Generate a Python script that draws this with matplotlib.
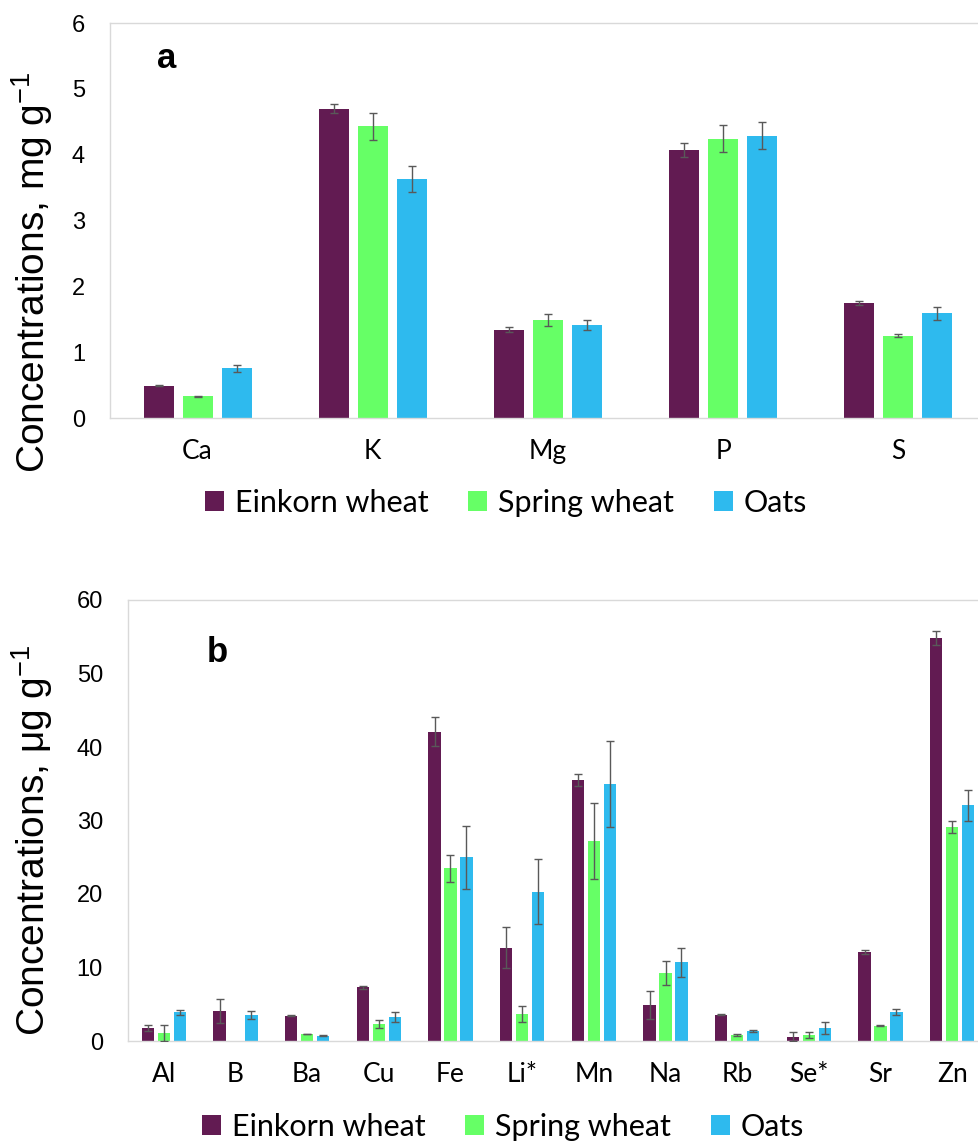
import numpy as np
import matplotlib.pyplot as plt

plt.rcParams['font.family'] = ['Liberation Sans', 'DejaVu Sans']
plt.rcParams['mathtext.fontset'] = 'custom'
plt.rcParams['mathtext.rm'] = 'Liberation Sans'
plt.rcParams['mathtext.it'] = 'Liberation Sans:italic'

# series names and colours
series = ['Einkorn wheat', 'Spring wheat', 'Oats']
colors = ['#621B52', '#66FF66', '#2EBAEE']

# panel a - macro elements, mg g-1
macro = ['Ca', 'K', 'Mg', 'P', 'S']
einkorn_a = [0.49, 4.70, 1.34, 4.07, 1.745]
einkorn_a_err = [0.01, 0.07, 0.04, 0.11, 0.035]
spring_a = [0.33, 4.43, 1.49, 4.245, 1.25]
spring_a_err = [0.01, 0.21, 0.09, 0.21, 0.02]
oats_a = [0.755, 3.63, 1.41, 4.29, 1.59]
oats_a_err = [0.055, 0.20, 0.08, 0.21, 0.10]

# panel b - trace elements, ug g-1 (no spring wheat value for B)
trace = ['Al', 'B', 'Ba', 'Cu', 'Fe', 'Li*', 'Mn', 'Na', 'Rb', 'Se*', 'Sr', 'Zn']
einkorn_b = [1.75, 4.1, 3.44, 7.3, 42.1, 12.7, 35.5, 4.9, 3.6, 0.6, 12.1, 54.8]
einkorn_b_err = [0.4, 1.65, 0.1, 0.23, 1.95, 2.8, 0.85, 1.95, 0.1, 0.65, 0.25, 0.95]
spring_b = [1.1, np.nan, 0.96, 2.34, 23.5, 3.72, 27.2, 9.3, 0.82, 0.82, 2.09, 29.1]
spring_b_err = [1.05, np.nan, 0.05, 0.55, 1.85, 1.1, 5.2, 1.65, 0.15, 0.35, 0.1, 0.85]
oats_b = [3.9, 3.53, 0.69, 3.3, 25.0, 20.3, 34.95, 10.7, 1.36, 1.82, 3.95, 32.1]
oats_b_err = [0.35, 0.55, 0.07, 0.7, 4.3, 4.4, 5.9, 1.95, 0.15, 0.8, 0.4, 2.1]

grid_col = '#D9D9D9'
err_col = '#595959'
W, H = 979, 1146


def draw_panel(ax, cats, vals, errs, ymax, ystep):
    x = np.arange(len(cats))
    width = 0.171
    step = 0.223
    for i in range(3):
        ax.bar(x + (i - 1) * step, vals[i], width, color=colors[i],
               label=series[i], zorder=2)
        ax.errorbar(x + (i - 1) * step, vals[i], yerr=errs[i], fmt='none',
                    ecolor=err_col, elinewidth=1, capsize=3, capthick=1, zorder=3)
    ax.set_xlim(-0.5, len(cats) - 0.5)
    ax.set_ylim(0, ymax)
    ax.set_yticks(np.arange(0, ymax + ystep / 2, ystep))
    ax.set_xticks(x)
    ax.set_xticklabels(cats, fontfamily='Lato', fontsize=19)
    ax.tick_params(axis='y', length=0, pad=18, labelsize=17)
    ax.tick_params(axis='x', length=0, pad=15)
    for s in ['left', 'top', 'bottom']:
        ax.spines[s].set_color(grid_col)
        ax.spines[s].set_linewidth(1)
    ax.spines['right'].set_visible(False)


def add_legend(ax, cx, cy):
    ax.legend(loc='center', bbox_to_anchor=(cx / W, 1 - cy / H),
              bbox_transform=fig.transFigure, ncol=3, frameon=False,
              prop={'family': 'Lato', 'size': 22}, handlelength=0.62,
              handleheight=0.62, handletextpad=0.35, columnspacing=1.3)


fig = plt.figure(figsize=(W / 100, H / 100), dpi=100)

# panel a
ax1 = fig.add_axes([110 / W, 1 - 418 / H, 876 / W, 395 / H])
draw_panel(ax1, macro,
           [einkorn_a, spring_a, oats_a],
           [einkorn_a_err, spring_a_err, oats_a_err], 6, 1)
add_legend(ax1, 506, 503)
fig.text(45 / W, 1 - 272 / H, 'Concentrations, mg g$^{-1}$', rotation=90,
         rotation_mode='anchor', ha='center', va='baseline', fontsize=28)
fig.text(167 / W, 1 - 68 / H, 'a', fontsize=25, fontweight='bold',
         ha='center', va='baseline')

# panel b
ax2 = fig.add_axes([128 / W, 1 - 1041 / H, 860 / W, 441 / H])
draw_panel(ax2, trace,
           [einkorn_b, spring_b, oats_b],
           [einkorn_b_err, spring_b_err, oats_b_err], 60, 10)
add_legend(ax2, 503, 1127)
fig.text(45 / W, 1 - 840 / H, 'Concentrations, μg g$^{-1}$', rotation=90,
         rotation_mode='anchor', ha='center', va='baseline', fontsize=28)
fig.text(217 / W, 1 - 662 / H, 'b', fontsize=25, fontweight='bold',
         ha='center', va='baseline')

fig.savefig('out.png', dpi=100)
